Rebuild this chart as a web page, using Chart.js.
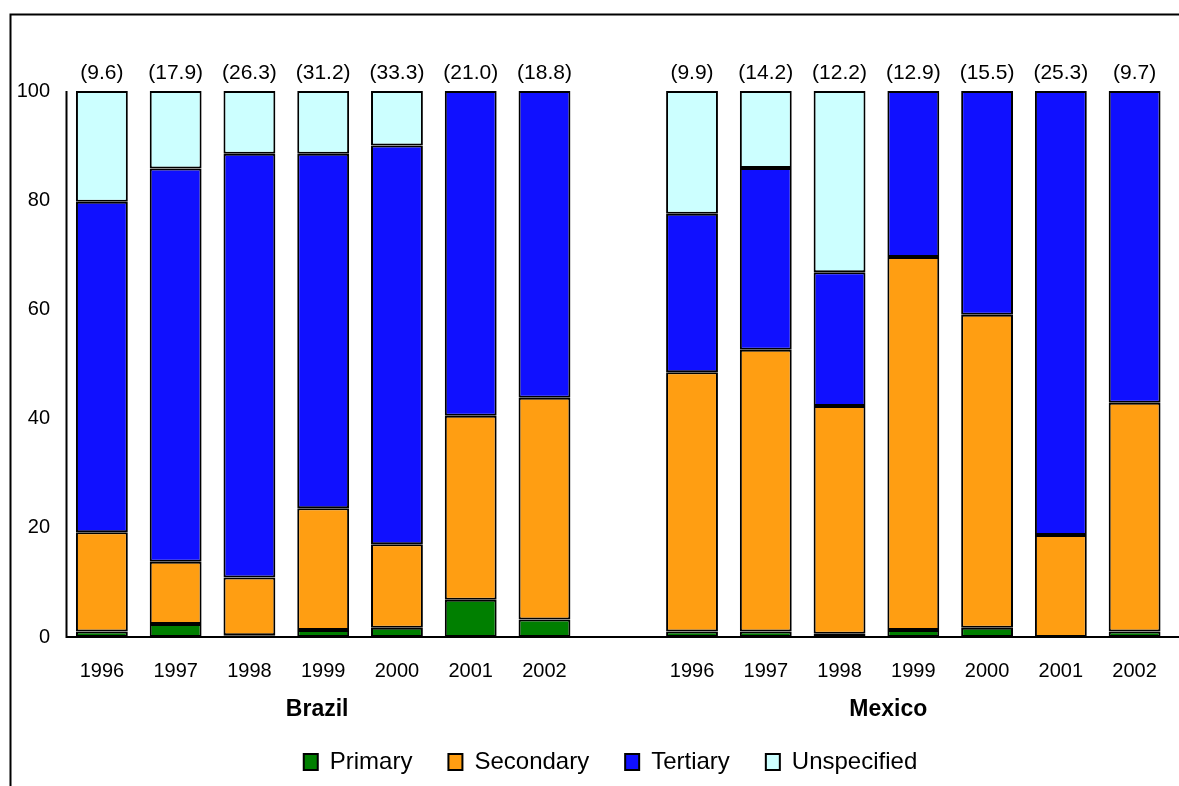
<!DOCTYPE html>
<html>
<head>
<meta charset="utf-8">
<script src="https://cdn.jsdelivr.net/npm/chart.js@4.4.1/dist/chart.umd.min.js"></script>
<style>
  html, body { margin: 0; padding: 0; background: #fff; }
</style>
</head>
<body>
<canvas id="myChart" width="1179" height="786"></canvas>
<script>
// categories
const years = ['1996', '1997', '1998', '1999', '2000', '2001', '2002'];
const countries = ['Brazil', 'Mexico'];

// totals printed over each bar
const brTotals = ['(9.6)', '(17.9)', '(26.3)', '(31.2)', '(33.3)', '(21.0)', '(18.8)'];
const mxTotals = ['(9.9)', '(14.2)', '(12.2)', '(12.9)', '(15.5)', '(25.3)', '(9.7)'];

// shares in percent
const brPrimary     = [1.0, 2.4, 0.3, 1.3, 1.7, 6.8, 3.2];
const brSecondary   = [18.2, 11.4, 10.6, 22.3, 15.3, 33.7, 40.6];
const brTertiary    = [60.5, 72.0, 77.6, 64.9, 73.0, 59.5, 56.2];
const brUnspecified = [20.3, 14.2, 11.5, 11.5, 10.0, null, null];

const mxPrimary     = [1.0, 1.0, 0.6, 1.3, 1.7, null, 1.0];
const mxSecondary   = [47.5, 51.6, 41.7, 68.3, 57.3, 18.7, 41.9];
const mxTertiary    = [29.0, 33.3, 24.5, 30.4, 41.0, 81.3, 57.1];
const mxUnspecified = [22.5, 14.1, 33.2, null, null, null, null];

const yStep = 20;

// one empty slot between the two countries
const join = (a, b) => [...a, null, ...b];
const labels = join(years, years).map(v => v === null ? '' : v);
const totals = join(brTotals, mxTotals);

const FONT = 'Liberation Sans, Arial, sans-serif';

function makeSet(label, data, color) {
    return {
        label: label,
        data: data,
        backgroundColor: color,
        borderColor: '#000',
        borderWidth: 2,
        borderSkipped: false,
        barPercentage: 0.703,
        categoryPercentage: 1.0
    };
}

// frame, axis lines and the extra texts
const extras = {
    id: 'extras',
    afterLayout(chart) {
        // legend sits a bit right of centre in the original
        chart.legend.left += 23;
        chart.legend.right += 23;
    },
    afterDraw(chart) {
        const ctx = chart.ctx;
        const area = chart.chartArea;
        const xs = chart.scales.x;
        ctx.save();

        // outer frame (cut at right and bottom)
        ctx.strokeStyle = '#000';
        ctx.lineWidth = 2;
        ctx.beginPath();
        ctx.moveTo(10.5, chart.height);
        ctx.lineTo(10.5, 14.5);
        ctx.lineTo(chart.width, 14.5);
        ctx.stroke();

        // axis lines
        const axisX = area.left + 1.5;
        ctx.beginPath();
        ctx.moveTo(axisX, area.top);
        ctx.lineTo(axisX, area.bottom);
        ctx.lineTo(chart.width, area.bottom);
        ctx.stroke();

        // totals above bars
        ctx.fillStyle = '#000';
        ctx.font = '21px ' + FONT;
        ctx.textAlign = 'center';
        ctx.textBaseline = 'alphabetic';
        totals.forEach((t, i) => {
            if (t === null) return;
            ctx.fillText(t, xs.getPixelForValue(i), area.top - 12);
        });

        // country names under the years
        ctx.font = 'bold 23px ' + FONT;
        ctx.textBaseline = 'middle';
        const nudgeX = [-6, -25];
        countries.forEach((c, g) => {
            const mid = g * (years.length + 1) + Math.floor(years.length / 2);
            ctx.fillText(c, xs.getPixelForValue(mid) + nudgeX[g], 710);
        });
        ctx.restore();
    }
};

new Chart(document.getElementById('myChart'), {
    type: 'bar',
    data: {
        labels: labels,
        datasets: [
            makeSet('Primary', join(brPrimary, mxPrimary), '#007F00'),
            makeSet('Secondary', join(brSecondary, mxSecondary), '#FF9E12'),
            makeSet('Tertiary', join(brTertiary, mxTertiary), '#1010FF'),
            makeSet('Unspecified', join(brUnspecified, mxUnspecified), '#CCFFFF')
        ]
    },
    options: {
        responsive: false,
        animation: false,
        devicePixelRatio: 1,
        layout: { padding: { top: 91, left: 0, right: 4, bottom: 2 } },
        plugins: {
            tooltip: { enabled: false },
            legend: {
                position: 'bottom',
                labels: {
                    font: { family: FONT, size: 24 },
                    color: '#000',
                    boxWidth: 14,
                    boxHeight: 16,
                    padding: 36
                }
            }
        },
        scales: {
            x: {
                stacked: true,
                grid: { display: false, drawTicks: false },
                border: { display: false },
                ticks: {
                    font: { family: FONT, size: 20 },
                    color: '#000',
                    padding: 22,
                    maxRotation: 0,
                    autoSkip: false
                },
                afterFit(scale) { scale.height = 77; }
            },
            y: {
                stacked: true,
                min: 0,
                max: 100,
                grid: { display: false, drawTicks: false },
                border: { display: false },
                ticks: {
                    stepSize: yStep,
                    font: { family: FONT, size: 20 },
                    color: '#000',
                    padding: 15
                },
                afterFit(scale) { scale.width = 65; }
            }
        }
    },
    plugins: [extras]
});
</script>
</body>
</html>
